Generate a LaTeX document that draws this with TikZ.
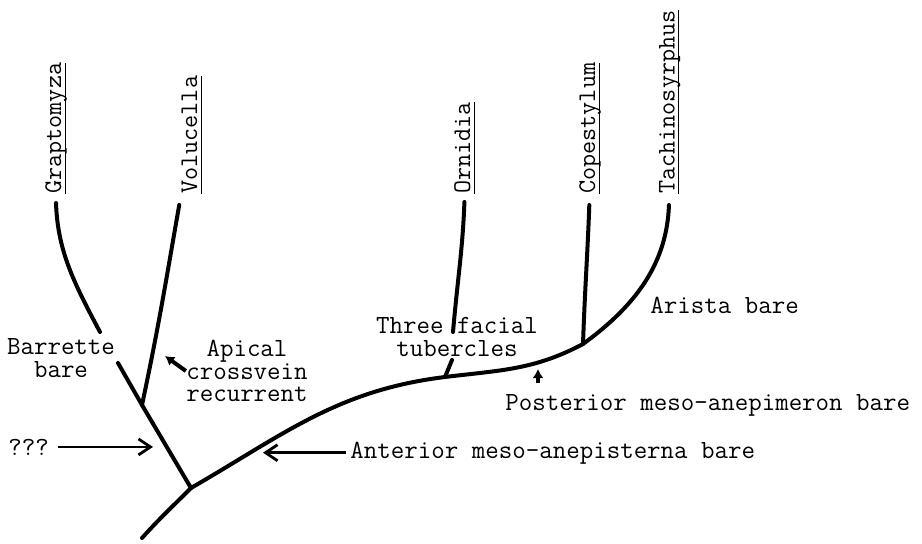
\documentclass[tikz,border=0pt]{standalone}
\usepackage{fontspec}
\usetikzlibrary{arrows.meta}

\newcommand\taxonname[1]{\underline{\raisebox{0pt}[\height][0.5pt]{#1}}}

\begin{document}
\begin{tikzpicture}[x=0.5pt,y=0.5pt,>={Straight Barb[length=6pt,width=8pt]}]

  \tikzstyle{every node}=[font=\fontsize{13.1}{11.4}\selectfont\ttfamily]
  \tikzstyle{taxon}=[rotate=90,anchor=south west,inner sep=0pt,
                     font=\fontsize{12.7}{11.4}\selectfont\ttfamily]
  \tikzstyle{trait}=[align=center,inner sep=0pt]
  \tikzstyle{note}=[anchor=base west,inner sep=0pt]
  \tikzstyle{branch}=[line width=2pt,line cap=round]
  \tikzstyle{pointer}=[line width=1.4pt,->]
  \tikzstyle{nudge}=[line width=2pt,-{Latex[length=4.5pt,width=5.5pt]}]

  \useasboundingbox (0,0) rectangle (922,543);

  \node [taxon] (grap) at (66.5,349) {\taxonname{Graptomyza}};
  \node [taxon] (volu) at (202.5,349) {\taxonname{Volucella}};
  \node [taxon] (orni) at (475.5,349) {\taxonname{Ornidia}};
  \node [taxon] (cope) at (600.5,349) {\taxonname{Copestylum}};
  \node [taxon] (tach) at (680,349) {\taxonname{Tachinosyrphus}};

  \coordinate (root) at (142,5);
  \coordinate (j1) at (191,55);
  \coordinate (j2) at (142,138);
  \coordinate (j3) at (445,166);
  \coordinate (j4) at (583,199);
  \coordinate (bar1) at (100,211);
  \coordinate (bar2) at (118,180);
  \coordinate (orni1) at (453,211);
  \coordinate (orni2) at (452,183);

  \node [trait] (barrette) at (61,185) {Barrette\\bare};
  \node [trait] (apical) at (247,172) {Apical\\crossvein\\recurrent};
  \node [trait] (three) at (457,206) {Three facial\\tubercles};
  \node [note] (qqq) at (8,88) {???};
  \node [note] (arista) at (650,230) {Arista bare};
  \node [note] (post) at (505,133) {Posterior meso-anepimeron bare};
  \node [note] (ant) at (350,85) {Anterior meso-anepisterna bare};

  \coordinate (apicaltip) at (165,187);
  \coordinate (qtip) at (153,93);
  \coordinate (anttip) at (263,90);
  \coordinate (posttip) at (538,174);

  \path[branch]
  (j1)
  edge [out=225,in=48] (root)
  edge (j2)
  edge [out=30,in=187] (j3)

  (j3)
  edge [out=7,in=208] (j4)
  edge (orni2)

  (j4)
  edge [out=36,in=-92,shorten >=5.5pt] (tach.west)
  edge [out=88,in=-92,shorten >=5.5pt] (cope.west)

  (j2)
  edge [out=78,in=-100,shorten >=5.5pt] (volu.north west)
  edge (bar2)

  (bar1)
  edge [out=118,in=-88,shorten >=4.5pt] (grap.west)

  (orni1)
  edge [out=85,in=-92,shorten >=4pt] (orni.west);

  \draw[pointer,shorten <=4.5pt] (qqq.east) -- (qqq.east -| qtip);
  \draw[pointer,shorten <=2pt] (ant.west) -- (ant.west -| anttip);
  \draw[nudge] (apical.west) -- (apicaltip);
  \draw[nudge] ([yshift=-7pt]posttip) -- (posttip);

\end{tikzpicture}
\end{document}
